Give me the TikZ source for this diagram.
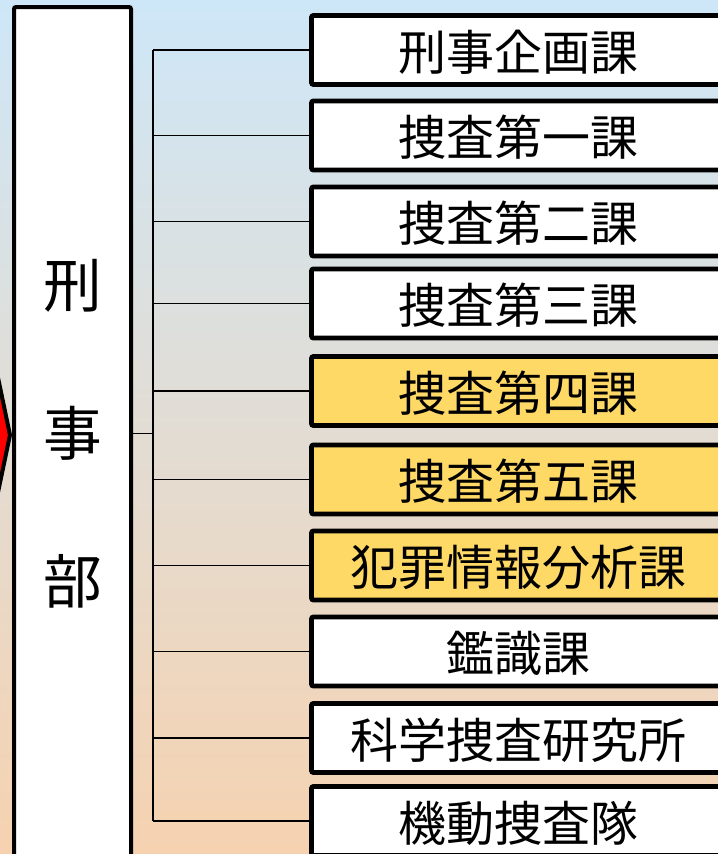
\documentclass[tikz,border=0pt]{standalone}
\usepackage{fontspec}
\newfontfamily\jpfont{Noto Sans CJK JP}
\usepackage{tikz}

\begin{document}
\begin{tikzpicture}[x=0.75pt,y=0.75pt,yscale=-1,xscale=1,
  ka/.style={draw, line width=3.6pt, rounded corners=1.5pt, fill=white, minimum width=309.75pt, minimum height=51.75pt, inner sep=0pt, text height=32pt, text depth=1.5pt, font=\jpfont\fontsize{36}{40}\selectfont},
  kahi/.style={ka, fill={rgb, 255:red, 255; green, 217; blue, 102 }},
  sen/.style={line width=1.1pt}
]
%set diagram left start at 0, and has height of 854
\useasboundingbox (0,0) rectangle (718,854);
\clip (0,0) rectangle (718,854);

%Shape: Background
\shade [top color={rgb, 255:red, 206; green, 231; blue, 248 }, middle color={rgb, 255:red, 224; green, 226; blue, 228 }, bottom color={rgb, 255:red, 246; green, 210; blue, 176 }] (0,0) rectangle (718,854);

%Shape: Arrow tip
\draw [line width=3pt, line join=miter, fill={rgb, 255:red, 255; green, 0; blue, 0 }] (-12,330) -- (10,435) -- (-12,540) -- cycle;

% Text Node
\node (keiji) [draw, line width=3pt, rounded corners=1.5pt, fill=white, minimum width=87.75pt, minimum height=639.75pt, inner sep=0pt, align=center, font=\jpfont\fontsize{44}{111}\selectfont] at (72.5,433.5) {刑\\事\\部};

% Text Node
\node (k1) [ka] at (518,50) {刑事企画課};
\node (k2) [ka] at (518,135.5) {捜査第一課};
\node (k3) [ka] at (518,221.5) {捜査第二課};
\node (k4) [ka] at (518,303.5) {捜査第三課};
\node (k5) [kahi] at (518,391) {捜査第四課};
\node (k6) [kahi] at (518,479.5) {捜査第五課};
\node (k7) [kahi] at (518,565.5) {犯罪情報分析課};
\node (k8) [ka] at (518,651.5) {鑑識課};
\node (k9) [ka] at (518,738) {科学捜査研究所};
\node (k10) [ka] at (518,821) {機動捜査隊};

%Straight Lines
\coordinate (bus) at (153,433.5);
\draw [sen] (keiji.east) -- (bus);
\draw [sen] (k1.west -| bus) -- (k10.west -| bus);
\foreach \i in {1,...,10}
  \draw [sen] (k\i.west -| bus) -- (k\i.west);

\end{tikzpicture}
\end{document}
